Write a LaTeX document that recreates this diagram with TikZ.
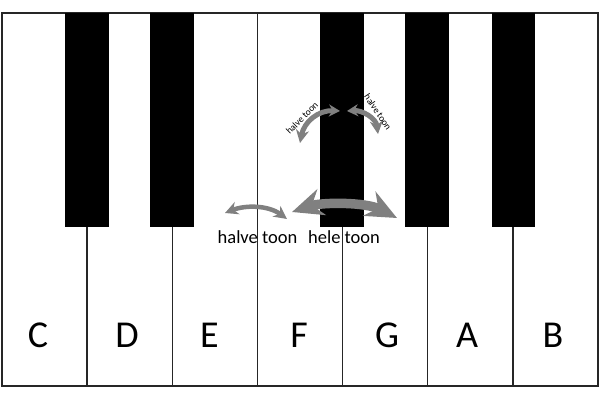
\documentclass[tikz,border=0pt]{standalone}
\usepackage{fontspec}
\setmainfont{Carlito}
\usetikzlibrary{arrows.meta}
\definecolor{arrowgray}{RGB}{128,128,128}
\begin{document}
\begin{tikzpicture}[x=1pt,y=-1pt,
  keyline/.style={draw=black!85,line width=1.3pt},
  blackkey/.style={fill=black},
  tone/.style={draw=arrowgray,line width=#1},
  keylabel/.style={font=\fontsize{38}{40}\selectfont,inner sep=0pt},
  bigtext/.style={font=\fontsize{18.5}{20}\selectfont,anchor=base,inner sep=0pt},
  smalltext/.style={font=\fontsize{9.5}{10}\selectfont,inner sep=0pt}]
\useasboundingbox (0,0) rectangle (600,400);
\fill[white] (0,0) rectangle (600,400);
% white keys
\draw[keyline] (2,13) rectangle (598,386);
\foreach \x in {87.1,172.3,342.6,427.7,512.9}
  \draw[keyline] (\x,227) -- (\x,386);
\draw[keyline] (257.4,13) -- (257.4,386);
% black keys
\foreach \a/\b in {65/109,150/194,320/364,405/449,492/535}
  \fill[blackkey] (\a,13) rectangle (\b,227);
% key labels
\node[keylabel] (C) at (38,335) {C};
\node[keylabel] (D) at (127,335) {D};
\node[keylabel] (E) at (209.5,335) {E};
\node[keylabel] (F) at (299,335) {F};
\node[keylabel] (G) at (387,335) {G};
\node[keylabel] (A) at (467,335) {A};
\node[keylabel] (B) at (553,335) {B};
% arrow end points
\coordinate (h1) at (225,213);
\coordinate (h2) at (287,219);
\coordinate (w1) at (292,212);
\coordinate (w2) at (397,218);
\coordinate (u1) at (300,143);
\coordinate (u2) at (340,111);
\coordinate (v1) at (347,111);
\coordinate (v2) at (378,134);
% arrows
\draw[tone=4.5pt,{Stealth[length=13pt,width=13pt]}-{Stealth[length=13pt,width=13pt]}]
  (h1) .. controls (245,205) and (268,205) .. (h2);
\draw[tone=9.5pt,{Stealth[length=31pt,width=27pt]}-{Stealth[length=31pt,width=27pt]}]
  (w1) .. controls (322,202) and (366,202) .. (w2);
\draw[tone=5pt,{Stealth[length=13pt,width=13pt]}-{Stealth[length=11pt,width=12pt]}]
  (u1) .. controls (304,122) and (318,110) .. (u2);
\draw[tone=5pt,{Stealth[length=11pt,width=12pt]}-{Stealth[length=13pt,width=13pt]}]
  (v1) .. controls (362,110) and (376,118) .. (v2);
% texts
\node[bigtext] (t1) at (257.5,243) {halve toon};
\node[bigtext] (t2) at (344,243) {hele toon};
\node[smalltext,rotate=45] (t3) at (302,118) {halve toon};
\node[smalltext,rotate=-56] (t4) at (378,112) {halve toon};
\end{tikzpicture}
\end{document}
